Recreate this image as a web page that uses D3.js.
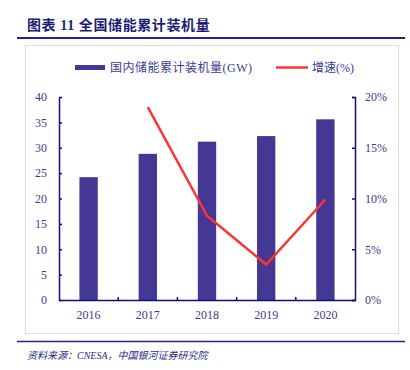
<!DOCTYPE html>
<html>
<head>
<meta charset="utf-8">
<script src="https://cdn.jsdelivr.net/npm/d3@7"></script>
<style>
	body { margin: 0; background: #fff; }
	svg { display: block; font-family: "Liberation Serif", "Noto Sans CJK SC", serif; }
</style>
</head>
<body>
<div id="chart"></div>
<script>
const years = ['2016', '2017', '2018', '2019', '2020'],
	capacity = [24.2, 28.8, 31.2, 32.3, 35.6],
	growth = [null, 19.0, 8.3, 3.5, 9.9],
	leftTicks = [0, 5, 10, 15, 20, 25, 30, 35, 40],
	rightTicks = [0, 5, 10, 15, 20];

const W = 410, H = 370,
	NAVY = '#0f0f80',
	LABEL = '#3a3a9a',
	BAR = '#453894',
	RED = '#ff3333';

let svg = d3.select('#chart').append('svg')
	.attr('width', W)
	.attr('height', H);

// title + rules
svg.append('text')
	.attr('x', 27).attr('y', 30)
	.attr('fill', '#1c1c78')
	.attr('font-size', 14)
	.attr('font-weight', 'bold')
	.attr('letter-spacing', 0.6)
	.text('图表 11 全国储能累计装机量');

svg.append('line')
	.attr('x1', 17).attr('x2', 405).attr('y1', 38).attr('y2', 38)
	.attr('stroke', '#22228c').attr('stroke-width', 2);

svg.append('rect')
	.attr('x', 25.5).attr('y', 45.5).attr('width', 373).attr('height', 288)
	.attr('fill', 'none').attr('stroke', '#dcdcdc');

svg.append('line')
	.attr('x1', 17).attr('x2', 405).attr('y1', 341.5).attr('y2', 341.5)
	.attr('stroke', '#22228c').attr('stroke-width', 1.5);

svg.append('text')
	.attr('x', 27).attr('y', 359)
	.attr('fill', '#2a2a8a')
	.attr('font-size', 10)
	.attr('font-style', 'italic')
	.text('资料来源：CNESA，中国银河证券研究院');

// scales
let x = d3.scaleBand().domain(years).range([59, 355]).paddingInner(0.69).paddingOuter(0.345),
	yL = d3.scaleLinear().domain([0, 40]).range([300, 97]),
	yR = d3.scaleLinear().domain([0, 20]).range([300, 97]);

// bars
svg.append('g').selectAll('rect')
	.data(capacity)
	.join('rect')
	.attr('x', (d, i) => x(years[i]))
	.attr('y', d => yL(d))
	.attr('width', x.bandwidth())
	.attr('height', d => yL(0) - yL(d))
	.attr('fill', BAR);

// growth line
let pts = growth.map((g, i) => [years[i], g]).filter(p => p[1] !== null);
svg.append('path')
	.datum(pts)
	.attr('d', d3.line().x(p => x(p[0]) + x.bandwidth() / 2).y(p => yR(p[1])))
	.attr('fill', 'none')
	.attr('stroke', RED)
	.attr('stroke-width', 2.5);

// axes
let styleAxis = g => {
	g.selectAll('.domain').attr('stroke', NAVY).attr('stroke-width', 1.5);
	g.selectAll('.tick line').attr('stroke', NAVY).attr('stroke-width', 1.5);
	g.selectAll('.tick text').attr('fill', LABEL).attr('font-size', 12)
		.attr('font-family', '"Liberation Serif", serif');
};

svg.append('g')
	.attr('transform', 'translate(59,0)')
	.call(d3.axisRight(yL).tickValues(leftTicks).tickSize(3).tickSizeOuter(0))
	.call(styleAxis)
	.call(g => g.selectAll('.tick text').attr('x', -12).attr('text-anchor', 'end'));

svg.append('g')
	.attr('transform', 'translate(355,0)')
	.call(d3.axisLeft(yR).tickValues(rightTicks).tickFormat(d => d + '%').tickSize(3).tickSizeOuter(3))
	.call(styleAxis)
	.call(g => g.selectAll('.tick text').attr('x', 10).attr('text-anchor', 'start'));

let xAxis = svg.append('g')
	.attr('transform', 'translate(0,300)')
	.call(d3.axisBottom(x).tickSize(0).tickPadding(10))
	.call(styleAxis);

// category separators on the x axis
xAxis.selectAll('line.sep')
	.data(years.slice(1))
	.join('line')
	.attr('class', 'sep')
	.attr('x1', d => x(d) - x.step() * x.paddingInner() / 2)
	.attr('x2', d => x(d) - x.step() * x.paddingInner() / 2)
	.attr('y1', 0).attr('y2', -3)
	.attr('stroke', NAVY).attr('stroke-width', 1.5);

// legend
let legend = svg.append('g').attr('font-size', 12).attr('fill', LABEL);
legend.append('rect')
	.attr('x', 75).attr('y', 65).attr('width', 30).attr('height', 5)
	.attr('fill', BAR);
legend.append('text')
	.attr('x', 110).attr('y', 72)
	.attr('fill', LABEL)
	.attr('letter-spacing', 0.5)
	.text('国内储能累计装机量(GW)');
legend.append('line')
	.attr('x1', 276).attr('x2', 308).attr('y1', 67.5).attr('y2', 67.5)
	.attr('stroke', RED).attr('stroke-width', 2.5);
legend.append('text')
	.attr('x', 312).attr('y', 72)
	.attr('fill', LABEL)
	.text('增速(%)');
</script>
</body>
</html>
